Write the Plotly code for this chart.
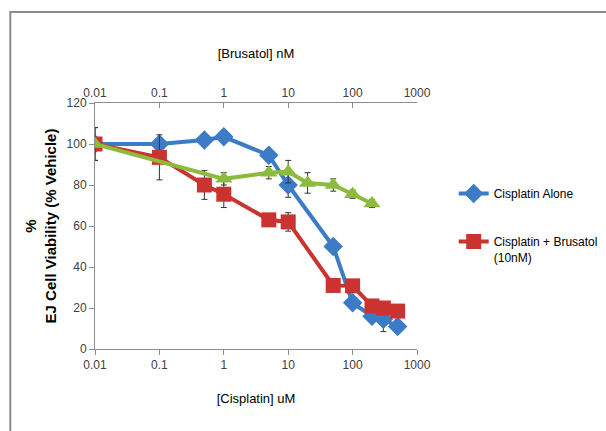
import plotly.graph_objects as go

# Cisplatin series (bottom axis, uM)
cis_x = [0.01, 0.1, 0.5, 1, 5, 10, 50, 100, 200, 300, 500]
alone_y = [100, 100, 102, 103.5, 94.5, 80, 50, 22.5, 16, 14.5, 11]
alone_err = [8, 2, 2, 2, 3, 6, 3, 2, 2, 6, 2]
combo_y = [100, 93.5, 80, 75.5, 63, 62, 31, 30.8, 21, 20, 18.5]
combo_err = [3, 11, 7, 6.5, 2, 4.5, 2, 2, 2, 2, 2]

# Brusatol series (top axis, nM)
bru_x = [0.01, 1, 5, 10, 20, 50, 100, 200]
bru_y = [100, 83, 86, 86.5, 81, 80, 75.5, 71]
bru_err = [8, 3, 3, 5.5, 5, 3, 2, 2]

x_ticks = [0.01, 0.1, 1, 10, 100, 1000]
x_ticklabels = ["0.01", "0.1", "1", "10", "100", "1000"]
y_ticks = [0, 20, 40, 60, 80, 100, 120]

BLUE = "#3C7BC6"
RED = "#CA3330"
GREEN = "#8DBB3C"
FONT = "Liberation Sans, Arial"
TICKC = "#404040"
AXC = "#8C8C8C"

err_style = dict(type="data", thickness=1, width=3, color="#333333")

fig = go.Figure()
fig.add_trace(go.Scatter(
    x=cis_x, y=alone_y, name="Cisplatin Alone", mode="lines+markers",
    line=dict(color=BLUE, width=4),
    marker=dict(symbol="diamond", size=15, color=BLUE),
    error_y=dict(array=alone_err, **err_style),
    legendgroup="a",
))
fig.add_trace(go.Scatter(
    x=cis_x, y=combo_y, name="Cisplatin + Brusatol<br>(10nM)", mode="lines+markers",
    line=dict(color=RED, width=4),
    marker=dict(symbol="square", size=15, color=RED),
    error_y=dict(array=combo_err, **err_style),
    legendgroup="b",
))
fig.add_trace(go.Scatter(
    x=bru_x, y=bru_y, name="Brusatol", mode="lines+markers", xaxis="x2",
    line=dict(color=GREEN, width=4),
    marker=dict(symbol="triangle-up", size=15, color=GREEN),
    error_y=dict(array=bru_err, **err_style),
    showlegend=False,
))

axis_common = dict(
    type="log", range=[-2, 3], tickvals=x_ticks, ticktext=x_ticklabels,
    showgrid=False, zeroline=False, showline=True, linecolor=AXC, linewidth=1,
    ticklen=5, tickcolor=AXC,
    tickfont=dict(family=FONT, size=12, color=TICKC),
)

fig.update_layout(
    width=606, height=431,
    margin=dict(l=95, r=189, t=103, b=82, autoexpand=False),
    paper_bgcolor="white", plot_bgcolor="white",
    font=dict(family=FONT, size=12, color=TICKC),
    xaxis=dict(
        **axis_common, ticks="outside",
        title=dict(text="[Cisplatin] uM", font=dict(family=FONT, size=13, color="#000000"), standoff=22),
    ),
    xaxis2=dict(
        **axis_common, ticks="inside",
        overlaying="x", side="top", anchor="y",
        title=dict(text="[Brusatol] nM", font=dict(family=FONT, size=13, color="#000000"), standoff=24),
    ),
    yaxis=dict(
        range=[0, 120], tickvals=y_ticks, showgrid=False, zeroline=False,
        showline=True, linecolor=AXC, linewidth=1, ticks="outside", ticklen=5, tickcolor=AXC,
        tickfont=dict(family=FONT, size=12, color=TICKC),
        title=dict(text="<b>%<br>EJ Cell Viability (% Vehicle)</b>",
                   font=dict(family=FONT, size=15, color="#000000"), standoff=6),
    ),
    legend=dict(
        x=1.114, y=0.69, xanchor="left", yanchor="top",
        font=dict(family=FONT, size=12, color="#000000"),
        valign="top", tracegroupgap=29, bgcolor="rgba(0,0,0,0)",
    ),
    showlegend=True,
)

fig.add_shape(type="rect", xref="paper", yref="paper",
              x0=-0.263, x1=1.8, y0=-0.8, y1=1.37,
              line=dict(color="#8A8A8A", width=2), layer="below")

fig.write_html("out.html")
